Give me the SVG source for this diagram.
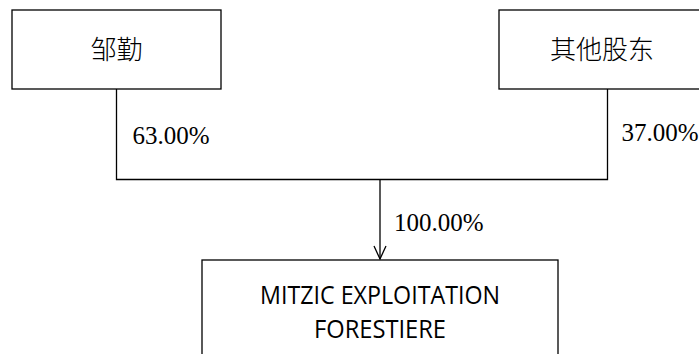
<svg xmlns="http://www.w3.org/2000/svg" width="699" height="354" viewBox="0 0 699 354">
<style>
.box{fill:#fff;stroke:#000;stroke-width:1.3}
.cn{font-family:"Noto Sans CJK SC",sans-serif;font-size:26px;font-weight:300;fill:#000;text-anchor:middle}
.pct{font-family:"Liberation Serif",serif;font-size:25px;fill:#000}
.en{font-family:"Open Sans",sans-serif;font-size:26px;fill:#000;text-anchor:middle}
.ln{fill:none;stroke:#000;stroke-width:1.3}
</style>
<rect width="699" height="354" fill="#fff"/>
<g id="connectors">
<polyline class="ln" points="116.5,89 116.5,179.5 607.5,179.5 607.5,89"/>
<line class="ln" x1="380" y1="179.5" x2="380" y2="259"/>
<path class="ln" d="M374,246 L380,259 L386,246"/>
<text class="pct" x="132.5" y="143.5">63.00%</text>
<text class="pct" x="621.5" y="141">37.00%</text>
<text class="pct" x="394" y="231">100.00%</text>
</g>
<g id="node-zouqin">
<rect class="box" x="12" y="10" width="209" height="79"/>
<text class="cn" x="116.5" y="59">邹勤</text>
</g>
<g id="node-others">
<rect class="box" x="499" y="10" width="206" height="79"/>
<text class="cn" x="602" y="59">其他股东</text>
</g>
<g id="node-mitzic">
<rect class="box" x="202" y="260" width="356" height="110"/>
<text class="en" x="380" y="303.5" textLength="240" lengthAdjust="spacingAndGlyphs">MITZIC EXPLOITATION</text>
<text class="en" x="380" y="337.5" textLength="132" lengthAdjust="spacingAndGlyphs">FORESTIERE</text>
</g>
</svg>
